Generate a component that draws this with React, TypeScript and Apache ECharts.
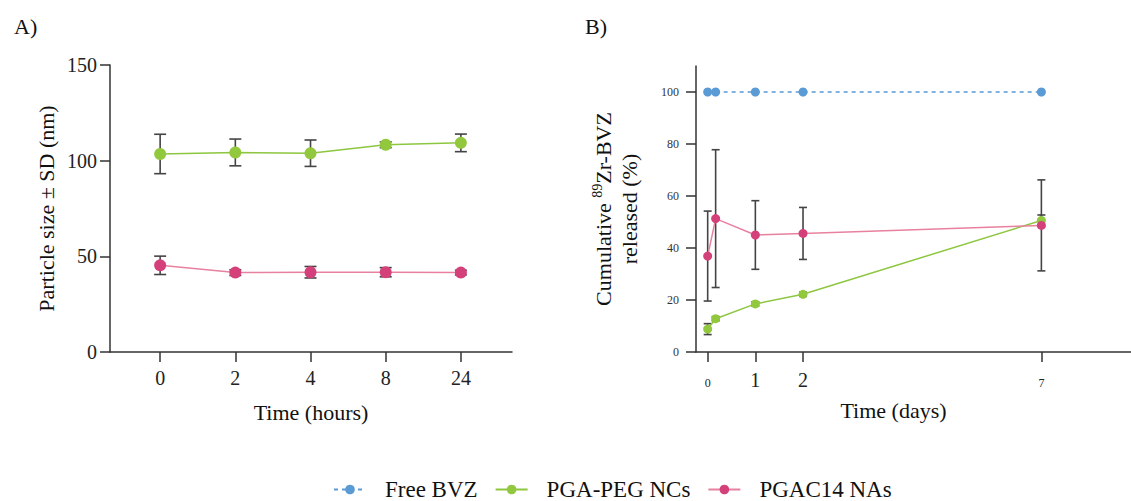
import React, { useEffect, useRef } from "react";
import * as echarts from "echarts";

const FONT = "Liberation Serif, Times New Roman, serif";

// Panel A — particle size over time
const timeLabelsA = ["0", "2", "4", "8", "24"];
const pegSizeA = [103.5, 104.3, 103.9, 108.3, 109.3];
const pegSdA = [10.3, 7.0, 6.9, 1.5, 4.6];
const c14SizeA = [45.3, 41.5, 41.7, 41.7, 41.5];
const c14SdA = [4.8, 1.5, 3.0, 2.4, 1.2];

// Panel B — cumulative release
const daysB = [0, 0.167, 1, 2, 7];
const dayTicksB = [0, 1, 2, 7];
const freeB = [100, 100, 100, 100, 100];
const pegB = [8.8, 12.8, 18.5, 22.2, 50.6];
const pegSdB = [2.1, 0.8, 0.8, 0.8, 2.1];
const c14B = [36.9, 51.3, 45.0, 45.6, 48.7];
const c14SdB = [17.3, 26.5, 13.2, 10.0, 17.5];
const yTicksB = [0, 20, 40, 60, 80, 100];

const seriesNames = ["Free BVZ", "PGA-PEG NCs", "PGAC14 NAs"];

const BLUE = "#5b9bd5";
const GREEN = "#92c83e";
const GREEN_LINE = "#8dc63f";
const PINK = "#d4417a";
const PINK_LINE = "#e8819f";
const ERR = "#444444";
const AXIS = "#333333";

function makeErr(cap: number) {
  return (params: any, api: any) => {
    const x = api.value(0);
    const lo = api.coord([x, api.value(1)]);
    const hi = api.coord([x, api.value(2)]);
    const w = cap / 2;
    const style = { stroke: ERR, lineWidth: 1.6 };
    return {
      type: "group",
      children: [
        { type: "line", shape: { x1: lo[0], y1: lo[1], x2: hi[0], y2: hi[1] }, style },
        { type: "line", shape: { x1: hi[0] - w, y1: hi[1], x2: hi[0] + w, y2: hi[1] }, style },
        { type: "line", shape: { x1: lo[0] - w, y1: lo[1], x2: lo[0] + w, y2: lo[1] }, style },
      ],
    };
  };
}

export default function App() {
  const ref = useRef<HTMLDivElement>(null);
  useEffect(() => {
    if (!ref.current) return;
    const chart = echarts.init(ref.current, undefined, { renderer: "svg" });
    const axisLine = { show: true, onZero: false, lineStyle: { color: AXIS, width: 1.5 } };
    const axisTick = { show: true, length: 10, lineStyle: { color: AXIS, width: 1.5 } };
    const option: any = {
      animation: false,
      textStyle: { fontFamily: FONT },
      title: [
        { text: "A)", left: 9, top: 10, textStyle: { fontFamily: FONT, fontSize: 22, fontWeight: "normal", color: "#111" } },
        { text: "B)", left: 580, top: 10, textStyle: { fontFamily: FONT, fontSize: 22, fontWeight: "normal", color: "#111" } },
      ],
      legend: {
        data: seriesNames,
        left: 333,
        top: 478,
        itemWidth: 32,
        itemHeight: 12,
        itemGap: 17,
        padding: 0,
        textStyle: { fontFamily: FONT, fontSize: 23, lineHeight: 23, color: "#111", padding: [0, 0, 0, 14] },
      },
      grid: [
        { left: 110, top: 65, width: 402, height: 287 },
        { left: 696, top: 66, width: 435, height: 286 },
      ],
      xAxis: [
        {
          gridIndex: 0,
          type: "value",
          min: -0.667,
          max: 4.68,
          splitLine: { show: false },
          axisLine,
          axisTick: { ...axisTick, customValues: [0, 1, 2, 3, 4] },
          axisLabel: {
            customValues: [0, 1, 2, 3, 4],
            formatter: (v: number) => timeLabelsA[Math.round(v)],
            fontSize: 20,
            color: "#222",
            margin: 16,
            fontFamily: FONT,
          },
          name: "Time (hours)",
          nameLocation: "middle",
          nameGap: 49,
          nameTextStyle: { fontFamily: FONT, fontSize: 22, color: "#111" },
        },
        {
          gridIndex: 1,
          type: "value",
          min: -0.245,
          max: 8.88,
          splitLine: { show: false },
          axisLine,
          axisTick: { ...axisTick, customValues: dayTicksB },
          axisLabel: {
            customValues: dayTicksB,
            formatter: (v: number) => (v === 1 || v === 2 ? `{b|${v}}` : `{s|${v}}`),
            margin: 18,
            color: "#222",
            fontFamily: FONT,
            rich: {
              b: { fontSize: 20, lineHeight: 20, fontFamily: FONT, color: "#222" },
              s: { fontSize: 12, lineHeight: 26, fontFamily: FONT, color: "#222" },
            },
          },
          name: "Time (days)",
          nameLocation: "middle",
          nameGap: 47,
          nameTextStyle: { fontFamily: FONT, fontSize: 22, color: "#111", padding: [0, 40, 0, 0] },
        },
      ],
      yAxis: [
        {
          gridIndex: 0,
          type: "value",
          min: 0,
          max: 150,
          interval: 50,
          splitLine: { show: false },
          axisLine,
          axisTick,
          axisLabel: { fontSize: 20, color: "#222", margin: 13, fontFamily: FONT },
          name: "Particle size ± SD (nm)",
          nameLocation: "middle",
          nameGap: 53,
          nameTextStyle: { fontFamily: FONT, fontSize: 22, color: "#111" },
        },
        {
          gridIndex: 1,
          type: "value",
          min: 0,
          max: 110,
          splitLine: { show: false },
          axisLine,
          axisTick: { ...axisTick, customValues: yTicksB },
          axisLabel: { customValues: yTicksB, fontSize: 12, color: "#333", margin: 17, fontFamily: FONT },
          name: "{t|Cumulative }{s|89}{t|Zr-BVZ}\n{t|released (%)}",
          nameLocation: "middle",
          nameGap: 54,
          nameTextStyle: {
            fontFamily: FONT,
            fontSize: 22,
            color: "#111",
            rich: {
              t: { fontFamily: FONT, fontSize: 22, lineHeight: 26, color: "#111" },
              s: { fontFamily: FONT, fontSize: 14, lineHeight: 26, verticalAlign: "top", color: "#111" },
            },
          },
        },
      ],
      series: [
        {
          type: "custom",
          name: "errA_peg",
          xAxisIndex: 0,
          yAxisIndex: 0,
          renderItem: makeErr(12),
          encode: { x: 0, y: [1, 2] },
          data: pegSizeA.map((v, i) => [i, v - pegSdA[i], v + pegSdA[i]]),
          z: 2,
          silent: true,
        },
        {
          type: "custom",
          name: "errA_c14",
          xAxisIndex: 0,
          yAxisIndex: 0,
          renderItem: makeErr(12),
          encode: { x: 0, y: [1, 2] },
          data: c14SizeA.map((v, i) => [i, v - c14SdA[i], v + c14SdA[i]]),
          z: 2,
          silent: true,
        },
        {
          type: "line",
          name: "PGA-PEG NCs",
          xAxisIndex: 0,
          yAxisIndex: 0,
          data: pegSizeA.map((v, i) => [i, v]),
          symbol: "circle",
          symbolSize: 12,
          itemStyle: { color: GREEN },
          lineStyle: { color: GREEN_LINE, width: 1.5 },
          z: 3,
        },
        {
          type: "line",
          name: "PGAC14 NAs",
          xAxisIndex: 0,
          yAxisIndex: 0,
          data: c14SizeA.map((v, i) => [i, v]),
          symbol: "circle",
          symbolSize: 12,
          itemStyle: { color: PINK },
          lineStyle: { color: PINK_LINE, width: 1.5 },
          z: 3,
        },
        {
          type: "custom",
          name: "errB_peg",
          xAxisIndex: 1,
          yAxisIndex: 1,
          renderItem: makeErr(8),
          encode: { x: 0, y: [1, 2] },
          data: pegB.map((v, i) => [daysB[i], v - pegSdB[i], v + pegSdB[i]]),
          z: 2,
          silent: true,
        },
        {
          type: "custom",
          name: "errB_c14",
          xAxisIndex: 1,
          yAxisIndex: 1,
          renderItem: makeErr(8),
          encode: { x: 0, y: [1, 2] },
          data: c14B.map((v, i) => [daysB[i], v - c14SdB[i], v + c14SdB[i]]),
          z: 2,
          silent: true,
        },
        {
          type: "line",
          name: "Free BVZ",
          xAxisIndex: 1,
          yAxisIndex: 1,
          data: freeB.map((v, i) => [daysB[i], v]),
          symbol: "circle",
          symbolSize: 9,
          itemStyle: { color: BLUE },
          lineStyle: { color: BLUE, width: 1.5, type: [4, 4] },
          z: 3,
        },
        {
          type: "line",
          name: "PGA-PEG NCs",
          xAxisIndex: 1,
          yAxisIndex: 1,
          data: pegB.map((v, i) => [daysB[i], v]),
          symbol: "circle",
          symbolSize: 9,
          itemStyle: { color: GREEN },
          lineStyle: { color: GREEN_LINE, width: 1.5 },
          z: 3,
        },
        {
          type: "line",
          name: "PGAC14 NAs",
          xAxisIndex: 1,
          yAxisIndex: 1,
          data: c14B.map((v, i) => [daysB[i], v]),
          symbol: "circle",
          symbolSize: 9,
          itemStyle: { color: PINK },
          lineStyle: { color: PINK_LINE, width: 1.5 },
          z: 3,
        },
      ],
    };
    chart.setOption(option);
    return () => chart.dispose();
  }, []);
  return (
    <div
      ref={ref}
      style={{ position: "fixed", left: 0, top: 0, width: 1131, height: 501, background: "#fff" }}
    />
  );
}
